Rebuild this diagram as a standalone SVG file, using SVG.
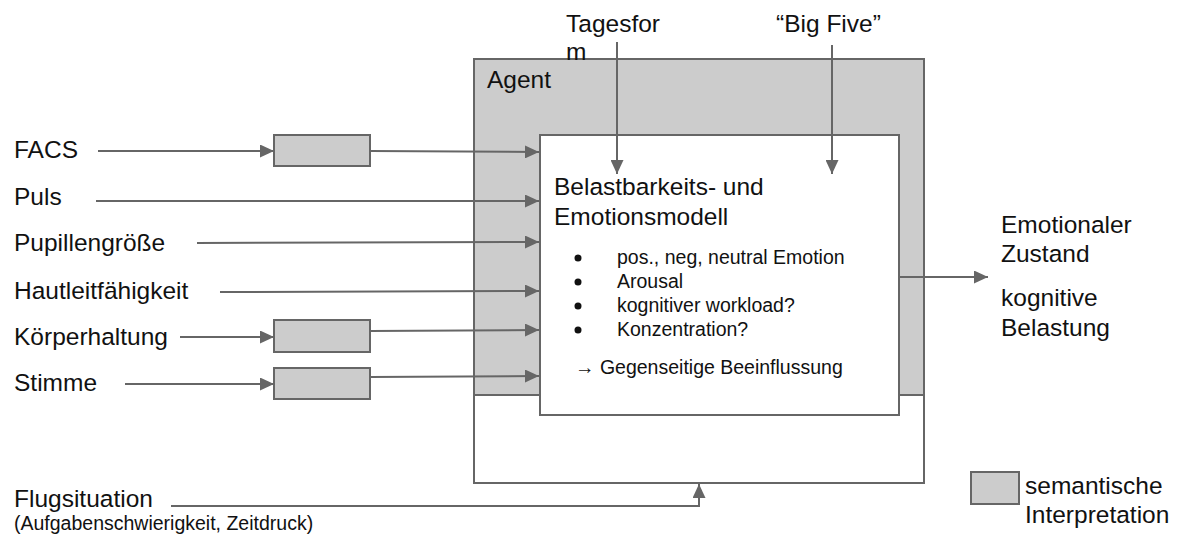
<svg xmlns="http://www.w3.org/2000/svg" width="1180" height="535" viewBox="0 0 1180 535">
  <defs>
    <marker id="ah" markerUnits="userSpaceOnUse" markerWidth="15" markerHeight="13" refX="14" refY="6.5" orient="auto">
      <path d="M0,0 L14,6.5 L0,13 Z" fill="#666"/>
    </marker>
    <style>
      text { font-family: "Liberation Sans", Arial, sans-serif; fill: #111; }
      .lbl { font-size: 24.5px; }
      .sm { font-size: 19.5px; }
      .box { fill: #cccccc; stroke: #666; stroke-width: 2; }
      .wbox { fill: #ffffff; stroke: #666; stroke-width: 2; }
      .arr { fill: none; stroke: #666; stroke-width: 2; marker-end: url(#ah); }
    </style>
  </defs>
  <rect width="1180" height="535" fill="#ffffff"/>

  <g id="agent">
    <rect class="wbox" x="474" y="59" width="450" height="424"/>
    <rect class="box" x="474" y="59" width="450" height="336"/>
    <text class="lbl" x="487" y="88">Agent</text>
  </g>

  <g id="model">
    <rect class="wbox" x="540" y="135" width="359" height="280"/>
    <text class="lbl" x="554" y="195">Belastbarkeits- und</text>
    <text class="lbl" x="554" y="225">Emotionsmodell</text>
    <circle cx="578" cy="258" r="3.5" fill="#111"/>
    <circle cx="578" cy="282" r="3.5" fill="#111"/>
    <circle cx="578" cy="306" r="3.5" fill="#111"/>
    <circle cx="578" cy="330" r="3.5" fill="#111"/>
    <text class="sm" x="617" y="264">pos., neg, neutral Emotion</text>
    <text class="sm" x="617" y="288">Arousal</text>
    <text class="sm" x="617" y="312">kognitiver workload?</text>
    <text class="sm" x="617" y="336">Konzentration?</text>
    <text class="sm" x="575" y="374">→ Gegenseitige Beeinflussung</text>
  </g>

  <g id="tagesform">
    <text class="lbl" x="566" y="32">Tagesfor</text>
    <text class="lbl" x="566" y="60">m</text>
  </g>
  <g id="bigfive">
    <text class="lbl" x="776" y="32">“Big Five”</text>
  </g>

  <g id="in-facs">
    <text class="lbl" x="14" y="158">FACS</text>
    <rect class="box" x="274" y="135" width="96" height="31"/>
  </g>
  <g id="in-puls"><text class="lbl" x="14" y="205">Puls</text></g>
  <g id="in-pupille"><text class="lbl" x="14" y="251">Pupillengröße</text></g>
  <g id="in-haut"><text class="lbl" x="14" y="299">Hautleitfähigkeit</text></g>
  <g id="in-koerper">
    <text class="lbl" x="14" y="345">Körperhaltung</text>
    <rect class="box" x="274" y="320" width="96" height="32"/>
  </g>
  <g id="in-stimme">
    <text class="lbl" x="14" y="391">Stimme</text>
    <rect class="box" x="274" y="368" width="96" height="31"/>
  </g>

  <g id="output">
    <text class="lbl" x="1001" y="233">Emotionaler</text>
    <text class="lbl" x="1001" y="262">Zustand</text>
    <text class="lbl" x="1001" y="306">kognitive</text>
    <text class="lbl" x="1001" y="336">Belastung</text>
  </g>

  <g id="flugsituation">
    <text class="lbl" x="14" y="507">Flugsituation</text>
    <text class="sm" x="14" y="530">(Aufgabenschwierigkeit, Zeitdruck)</text>
  </g>

  <g id="legend">
    <rect class="box" x="971" y="472" width="48" height="32"/>
    <text class="lbl" x="1025" y="494">semantische</text>
    <text class="lbl" x="1025" y="523">Interpretation</text>
  </g>

  <g id="connectors">
    <line class="arr" x1="617" y1="42" x2="617" y2="174"/>
    <line class="arr" x1="832" y1="45" x2="832" y2="174"/>
    <line class="arr" x1="98" y1="151" x2="274" y2="151"/>
    <line class="arr" x1="370" y1="151" x2="539" y2="152"/>
    <line class="arr" x1="96" y1="201" x2="539" y2="201"/>
    <line class="arr" x1="197" y1="243" x2="539" y2="242"/>
    <line class="arr" x1="220" y1="292" x2="539" y2="291"/>
    <line class="arr" x1="180" y1="337" x2="274" y2="337"/>
    <line class="arr" x1="370" y1="331" x2="539" y2="330"/>
    <line class="arr" x1="125" y1="384" x2="274" y2="384"/>
    <line class="arr" x1="370" y1="377" x2="539" y2="376"/>
    <line class="arr" x1="899" y1="277" x2="988" y2="277"/>
    <polyline class="arr" points="171,506 699,506 699,484"/>
  </g>
</svg>
